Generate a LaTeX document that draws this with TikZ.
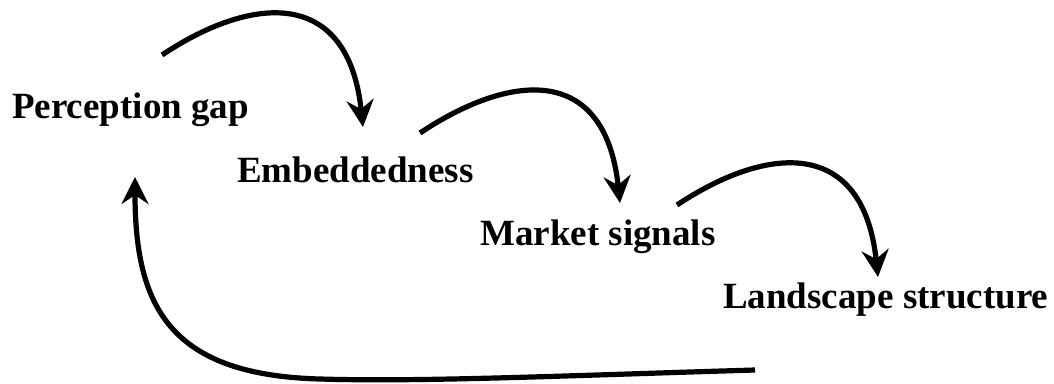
\documentclass[tikz,border=0pt]{standalone}
\usepackage{fontspec}
\setmainfont{Liberation Serif}
\usetikzlibrary{arrows.meta}
\tikzset{
  lab/.style={inner sep=0pt, anchor=base west, font=\fontsize{37}{44}\selectfont\bfseries},
  conn/.style={line width=5.2pt, -{Stealth[length=27pt,width=27pt,inset=9pt]}},
}
\begin{document}
\begin{tikzpicture}[x=1pt,y=-1pt]
\useasboundingbox (0,0) rectangle (1054,383);
\node[lab] (pg) at (12,118) {Perception gap};
\node[lab] (em) at (237,182) {Embeddedness};
\node[lab] (ms) at (480,245) {Market signals};
\node[lab] (ls) at (723,308) {Landscape structure};
% connector end points
\coordinate (s1) at (162,55);  \coordinate (t1) at (363,127);
\coordinate (s2) at (420,133); \coordinate (t2) at (620,203);
\coordinate (s3) at (677,205); \coordinate (t3) at (878,277);
\coordinate (s4) at (755,370); \coordinate (m4) at (320,379); \coordinate (t4) at (135,177);
\draw[conn] (s1) .. controls +(90,-60) and +(-15,-140) .. (t1);
\draw[conn] (s2) .. controls +(90,-60) and +(-15,-140) .. (t2);
\draw[conn] (s3) .. controls +(90,-60) and +(-15,-140) .. (t3);
\draw[conn] (s4) .. controls +(-200,6) and +(100,3) .. (m4)
                 .. controls +(-150,-4) and +(0,130) .. (t4);
\end{tikzpicture}
\end{document}
